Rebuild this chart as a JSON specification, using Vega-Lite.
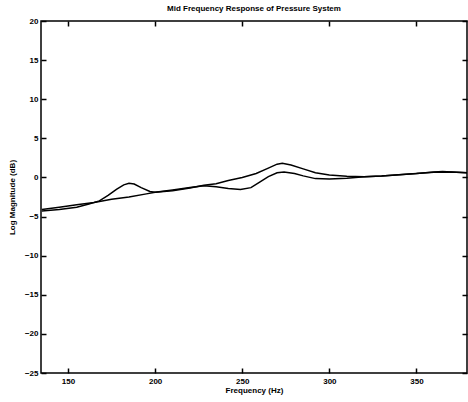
{
  "$schema": "https://vega.github.io/schema/vega-lite/v6.json",
  "width": 426,
  "height": 352,
  "autosize": {"type": "none"},
  "padding": {"left": 41, "top": 21, "right": 1, "bottom": 29},
  "background": "white",
  "config": {
    "view": {"stroke": "black", "strokeWidth": 1.5},
    "font": "Liberation Sans",
    "axis": {"domain": false, "grid": false, "labelColor": "black", "labelFont": "Liberation Sans", "labelFontWeight": "bold", "labelFontSize": 8, "titleFont": "Liberation Sans", "titleFontWeight": "bold", "titleFontSize": 8, "titleColor": "black"}
  },
  "title": {"text": "Mid Frequency Response of Pressure System", "fontSize": 8, "fontWeight": "bold", "font": "Liberation Sans", "color": "black", "offset": 4},
  "data": {"values": [
    {"f": 135, "m": -4.1, "s": "A"}, {"f": 145, "m": -3.8, "s": "A"}, {"f": 155, "m": -3.5, "s": "A"}, {"f": 165, "m": -3.2, "s": "A"}, {"f": 175, "m": -2.8, "s": "A"}, {"f": 185, "m": -2.5, "s": "A"}, {"f": 195, "m": -2.1, "s": "A"}, {"f": 200, "m": -1.9, "s": "A"}, {"f": 210, "m": -1.6, "s": "A"}, {"f": 220, "m": -1.3, "s": "A"}, {"f": 228, "m": -1.05, "s": "A"}, {"f": 235, "m": -1.2, "s": "A"}, {"f": 242, "m": -1.4, "s": "A"}, {"f": 249, "m": -1.55, "s": "A"}, {"f": 255, "m": -1.3, "s": "A"}, {"f": 260, "m": -0.6, "s": "A"}, {"f": 265, "m": 0.1, "s": "A"}, {"f": 270, "m": 0.6, "s": "A"}, {"f": 274, "m": 0.7, "s": "A"}, {"f": 280, "m": 0.5, "s": "A"}, {"f": 285, "m": 0.2, "s": "A"}, {"f": 292, "m": -0.15, "s": "A"}, {"f": 300, "m": -0.2, "s": "A"}, {"f": 310, "m": -0.1, "s": "A"}, {"f": 320, "m": 0.1, "s": "A"}, {"f": 330, "m": 0.2, "s": "A"}, {"f": 340, "m": 0.35, "s": "A"}, {"f": 350, "m": 0.5, "s": "A"}, {"f": 360, "m": 0.7, "s": "A"}, {"f": 365, "m": 0.75, "s": "A"}, {"f": 370, "m": 0.7, "s": "A"}, {"f": 379, "m": 0.6, "s": "A"},
    {"f": 135, "m": -4.3, "s": "B"}, {"f": 145, "m": -4.1, "s": "B"}, {"f": 155, "m": -3.8, "s": "B"}, {"f": 162, "m": -3.4, "s": "B"}, {"f": 168, "m": -3.0, "s": "B"}, {"f": 173, "m": -2.3, "s": "B"}, {"f": 178, "m": -1.5, "s": "B"}, {"f": 182, "m": -0.95, "s": "B"}, {"f": 185, "m": -0.75, "s": "B"}, {"f": 188, "m": -0.85, "s": "B"}, {"f": 192, "m": -1.3, "s": "B"}, {"f": 197, "m": -1.8, "s": "B"}, {"f": 200, "m": -1.9, "s": "B"}, {"f": 210, "m": -1.7, "s": "B"}, {"f": 220, "m": -1.35, "s": "B"}, {"f": 228, "m": -1.0, "s": "B"}, {"f": 235, "m": -0.8, "s": "B"}, {"f": 242, "m": -0.4, "s": "B"}, {"f": 250, "m": 0.0, "s": "B"}, {"f": 258, "m": 0.5, "s": "B"}, {"f": 264, "m": 1.1, "s": "B"}, {"f": 270, "m": 1.7, "s": "B"}, {"f": 273, "m": 1.8, "s": "B"}, {"f": 278, "m": 1.6, "s": "B"}, {"f": 285, "m": 1.1, "s": "B"}, {"f": 292, "m": 0.6, "s": "B"}, {"f": 300, "m": 0.3, "s": "B"}, {"f": 310, "m": 0.15, "s": "B"}, {"f": 320, "m": 0.1, "s": "B"}, {"f": 330, "m": 0.2, "s": "B"}, {"f": 340, "m": 0.35, "s": "B"}, {"f": 350, "m": 0.5, "s": "B"}, {"f": 360, "m": 0.65, "s": "B"}, {"f": 370, "m": 0.7, "s": "B"}, {"f": 379, "m": 0.6, "s": "B"}
  ]},
  "layer": [
    {
      "mark": {"type": "line", "color": "black", "strokeWidth": 1.5, "clip": true},
      "encoding": {
        "x": {"field": "f", "type": "quantitative", "scale": {"domain": [134.5, 379], "nice": false, "zero": false}, "axis": {"title": "Frequency (Hz)", "tickCount": 5, "tickColor": "black", "tickWidth": 1.5, "tickSize": -5, "labelPadding": 9, "titlePadding": 1}},
        "y": {"field": "m", "type": "quantitative", "scale": {"domain": [-25, 20], "nice": false}, "axis": {"title": "Log Magnitude (dB)", "tickCount": 9, "tickColor": "black", "tickWidth": 1.5, "tickSize": -5, "labelPadding": 8, "titlePadding": 8}},
        "detail": {"field": "s"}
      }
    },
    {
      "mark": {"type": "line", "opacity": 0},
      "encoding": {
        "x": {"field": "f", "type": "quantitative", "scale": {"domain": [134.5, 379], "nice": false, "zero": false}, "axis": {"orient": "top", "title": null, "labels": false, "tickCount": 5, "tickColor": "black", "tickWidth": 1.5, "tickSize": -5}},
        "y": {"field": "m", "type": "quantitative", "scale": {"domain": [-25, 20], "nice": false}, "axis": {"orient": "right", "title": null, "labels": false, "tickCount": 9, "tickColor": "black", "tickWidth": 1.5, "tickSize": -5}},
        "detail": {"field": "s"}
      }
    }
  ],
  "resolve": {"axis": {"x": "independent", "y": "independent"}}
}
